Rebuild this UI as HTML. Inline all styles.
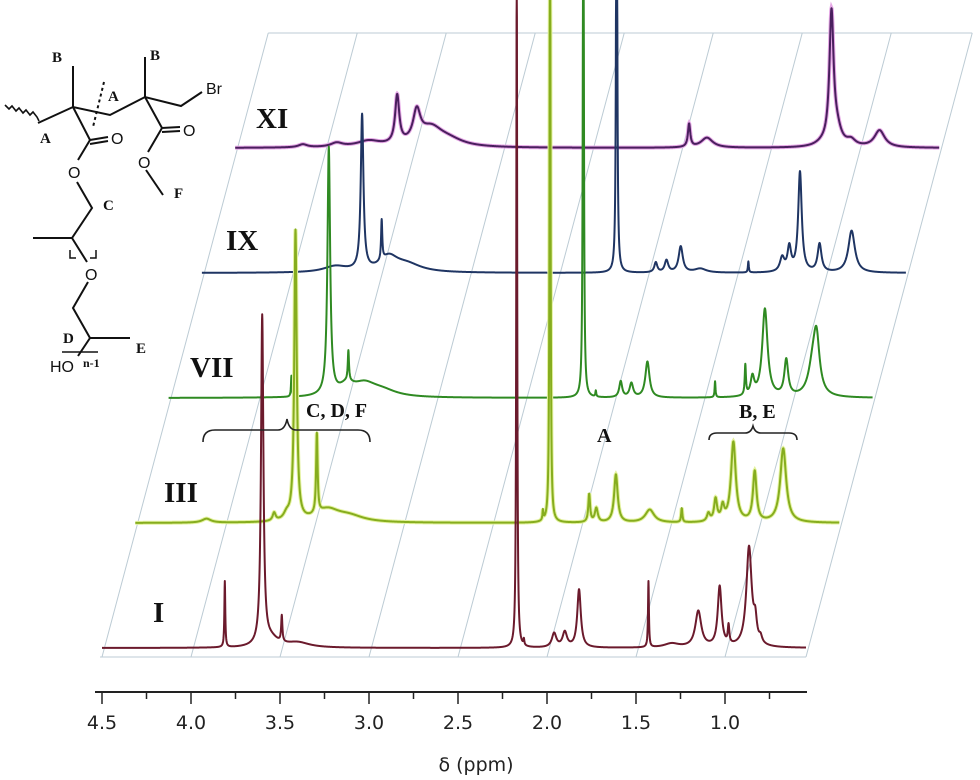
<!DOCTYPE html>
<html><head><meta charset="utf-8">
<style>
html,body{margin:0;padding:0;background:#fff;}
svg{display:block;}
.roman{font-family:"Liberation Serif",serif;font-weight:bold;font-size:29px;fill:#111;}
.lab{font-family:"Liberation Serif",serif;font-weight:bold;font-size:15px;fill:#111;}
.ann{font-family:"Liberation Serif",serif;font-weight:bold;font-size:20px;fill:#111;}
.sans{font-family:"Liberation Sans",sans-serif;font-size:16px;fill:#111;}
.tick{font-family:"DejaVu Sans","Liberation Sans",sans-serif;font-size:19px;fill:#222;}
</style></head>
<body>
<svg id="chart" width="980" height="780" viewBox="0 0 980 780" xmlns="http://www.w3.org/2000/svg">
<g id="grid"></g>
<g id="spectra"></g>
<g id="axis"></g>
<g>
<text class="roman" x="256" y="128">XI</text>
<text class="roman" x="226" y="250">IX</text>
<text class="roman" x="190" y="377">VII</text>
<text class="roman" x="164" y="502">III</text>
<text class="roman" x="153" y="622">I</text>
</g>
<g fill="none" stroke="#222" stroke-width="1.6">
<path d="M203,442 Q203,430 215,430 L278,430 Q285,430 287,419 Q289,430 296,430 L358,430 Q370,430 370,442"/>
<path d="M709,440 Q709,433 717,433 L745,433 Q751,433 753,426 Q755,433 761,433 L789,433 Q797,433 797,440"/>
</g>
<text class="ann" x="306" y="417">C, D, F</text>
<text class="ann" x="597" y="442">A</text>
<text class="ann" x="739" y="418">B, E</text>
<g fill="none" stroke="#111" stroke-width="2">
<path d="M5,105 l4,4 l3,-3 l4,5 l3,-3 l4,5 l3,-3 l4,5 l3,-3 l4,5 l2,4" stroke-width="1.6"/>
<path d="M38,123 L73,107 L110,115 L145,97 L181,106 L202,92"/>
<path d="M73,107 L73,66 M145,97 L145,57"/>
<path d="M104,82 L93,127" stroke-dasharray="3,3"/>
<path d="M73,107 L90,140 L108,137 M90,144 L108,141 M90,140 L78,160"/>
<path d="M145,97 L162,128 L180,127 M162,132 L180,131 M162,128 L148,152"/>
<path d="M146,170 L163,195"/>
<path d="M77,182 L92,208 L72,238 L33,238 M72,238 L87,262"/>
<path d="M70,250 L70,258 L76,258 M96,250 L96,258 L90,258" stroke-width="1.5"/>
<path d="M88,282 L73,308 L90,338 L130,338 M90,338 L78,356"/>
<path d="M62,352 L98,352" stroke-width="1.5"/>
</g>
<g>
<text class="lab" x="52" y="62">B</text>
<text class="lab" x="150" y="60">B</text>
<text class="lab" x="108" y="101">A</text>
<text class="lab" x="40" y="143">A</text>
<text class="sans" x="206" y="94">Br</text>
<text class="sans" x="111" y="144">O</text>
<text class="sans" x="183" y="136">O</text>
<text class="sans" x="68" y="178">O</text>
<text class="sans" x="138" y="168">O</text>
<text class="lab" x="174" y="198">F</text>
<text class="lab" x="103" y="210">C</text>
<text class="sans" x="85" y="280">O</text>
<text class="lab" x="63" y="343">D</text>
<text class="lab" x="136" y="353">E</text>
<text class="sans" x="50" y="372">HO</text>
<text class="lab" x="83" y="367" style="font-size:12px">n-1</text>
</g>
</svg>
<script>
const axisTicks = [4.5, 4.0, 3.5, 3.0, 2.5, 2.0, 1.5, 1.0];
const axisTickLabels = ["4.5","4.0","3.5","3.0","2.5","2.0","1.5","1.0"];
const spectrumNames = ["I","III","VII","IX","XI"];
// peaks: centre ppm, height (px), half-width (ppm)
const peaksI_ppm = [3.81,3.60,3.55,3.49,3.40,2.17,2.13,1.96,1.90,1.82,1.43,1.30,1.15,1.03,0.98,0.865,0.83,0.80];
const peaksI_h   = [66,329,8,26,5,700,6,14,15,58,66,4,36,60,18,100,20,6];
const peaksI_w   = [.003,.008,.05,.004,.08,.003,.003,.015,.015,.012,.003,.05,.02,.013,.005,.018,.01,.01];
const peaksIII_ppm = [4.10,3.72,3.65,3.60,3.48,3.42,3.30,2.21,2.17,1.95,1.91,1.80,1.61,1.43,1.28,1.24,1.20,1.14,1.02,0.86];
const peaksIII_h   = [4,8,6,290,80,12,6,10,700,28,14,48,13,14,8,22,14,80,50,74];
const peaksIII_w   = [.03,.01,.02,.008,.005,.08,.1,.003,.003,.006,.01,.012,.03,.004,.01,.01,.01,.016,.012,.02];
const peaksVII_ppm = [3.81,3.60,3.49,3.50,3.40,3.30,2.17,2.10,1.96,1.90,1.81,1.43,1.26,1.22,1.15,1.03,0.88,0.86];
const peaksVII_h   = [21,247,30,10,12,6,700,6,16,14,36,16,30,18,88,36,30,50];
const peaksVII_w   = [.003,.009,.004,.05,.08,.1,.003,.003,.01,.012,.014,.003,.004,.012,.018,.013,.03,.02];
const peaksIX_ppm = [3.75,3.60,3.49,3.45,3.35,2.17,1.95,1.89,1.81,1.70,1.43,1.24,1.20,1.14,1.03,0.85];
const peaksIX_h   = [6,155,40,14,8,700,10,12,26,4,11,14,24,100,28,42];
const peaksIX_w   = [.08,.009,.004,.06,.1,.003,.01,.012,.014,.04,.003,.015,.012,.012,.013,.022];
const peaksXI_ppm = [4.12,3.93,3.75,3.59,3.48,3.40,3.30,1.95,1.85,1.20,1.15,1.12,1.04,0.88];
const peaksXI_h   = [3,4,6,48,30,18,6,23,10,3,130,15,6,17];
const peaksXI_w   = [.03,.04,.08,.014,.025,.08,.1,.008,.04,.05,.014,.03,.03,.035];

const NS='http://www.w3.org/2000/svg';
const X0=102, PXPPM=178, BASE0=648, DX=33.3, DY=-125, PMIN=0.545;
function xScale(p,k){return X0+(4.5-p)*PXPPM+k*DX;}
function yBase(k){return BASE0+k*DY;}

const grid=document.getElementById('grid');
const gb=657, gt=33;
const sh=(gb-gt)*DX/125;
function gl(x1,y1,x2,y2,name){
  const l=document.createElementNS(NS,'line');
  l.setAttribute('x1',x1);l.setAttribute('y1',y1);l.setAttribute('x2',x2);l.setAttribute('y2',y2);
  l.setAttribute('stroke','#bccbd4');l.setAttribute('stroke-width','1');
  
  
  grid.appendChild(l);
}
axisTicks.forEach(t=>{const x=xScale(t,0);gl(x,gb,x+sh,gt,'grid-line');});
gl(xScale(PMIN,0),gb,xScale(PMIN,0)+sh,gt,'grid-right-edge');
gl(xScale(4.5,0)-2,gb,xScale(PMIN,0),gb,'grid-bottom-edge');
gl(xScale(4.5,0)+sh,gt,xScale(PMIN,0)+sh,gt,'grid-top-edge');

const spectra=[
 {ppm:peaksXI_ppm,h:peaksXI_h,w:peaksXI_w,k:4,color:'#4a1f5e',glow:'#e6a8e6',name:'spectrum-xi'},
 {ppm:peaksIX_ppm,h:peaksIX_h,w:peaksIX_w,k:3,color:'#1f3563',glow:null,name:'spectrum-ix'},
 {ppm:peaksVII_ppm,h:peaksVII_h,w:peaksVII_w,k:2,color:'#2f8a22',glow:null,name:'spectrum-vii'},
 {ppm:peaksIII_ppm,h:peaksIII_h,w:peaksIII_w,k:1,color:'#86ad1e',glow:'#e4f2a0',name:'spectrum-iii'},
 {ppm:peaksI_ppm,h:peaksI_h,w:peaksI_w,k:0,color:'#6b1a2c',glow:null,name:'spectrum-i'}
];
const sg=document.getElementById('spectra');
spectra.forEach(s=>{
  let d='';
  const pts=[];
  for(let p=4.5;p>=PMIN-1e-9;p-=0.001){pts.push(p);}
  s.ppm.forEach(c=>{pts.push(c);});
  pts.sort((a,b)=>b-a);
  pts.forEach((p,i)=>{
    let v=0;
    for(let j=0;j<s.ppm.length;j++){const u=(p-s.ppm[j])/s.w[j];v+=s.h[j]/(1+u*u);}
    const x=xScale(p,s.k), y=Math.max(-5,yBase(s.k)-v);
    d+=(i?'L':'M')+x.toFixed(2)+','+y.toFixed(2);
  });
  if(s.glow){
    const g=document.createElementNS(NS,'path');
    g.setAttribute('d',d);g.setAttribute('fill','none');g.setAttribute('stroke',s.glow);g.setAttribute('stroke-width','4');
    
    
    sg.appendChild(g);
  }
  const path=document.createElementNS(NS,'path');
  path.setAttribute('d',d);path.setAttribute('fill','none');path.setAttribute('stroke',s.color);
  path.setAttribute('stroke-width','2');path.setAttribute('stroke-linejoin','round');
  
  
  sg.appendChild(path);
});

const ax=document.getElementById('axis');
function line(x1,y1,x2,y2,w,name){
  const l=document.createElementNS(NS,'line');
  l.setAttribute('x1',x1);l.setAttribute('y1',y1);l.setAttribute('x2',x2);l.setAttribute('y2',y2);
  l.setAttribute('stroke','#222');l.setAttribute('stroke-width',w);
  
  
  ax.appendChild(l);
}
line(95,692,807,692,2,'x-axis-line');
axisTicks.forEach((t,i)=>{
  const x=xScale(t,0);
  line(x,692,x,704,1.5,'x-tick');
  const mx=xScale(t-0.25,0);
  if(t-0.25>=PMIN) line(mx,692,mx,699,1.5,'x-minor-tick');
  const tx=document.createElementNS(NS,'text');
  tx.setAttribute('x',x);tx.setAttribute('y',729);tx.setAttribute('text-anchor','middle');tx.setAttribute('class','tick');
  tx.textContent=axisTickLabels[i];
  
  
  ax.appendChild(tx);
});
const at=document.createElementNS(NS,'text');
at.setAttribute('x',476);at.setAttribute('y',771);at.setAttribute('text-anchor','middle');at.setAttribute('class','tick');
at.textContent='δ (ppm)';


ax.appendChild(at);
</script>
</body></html>
